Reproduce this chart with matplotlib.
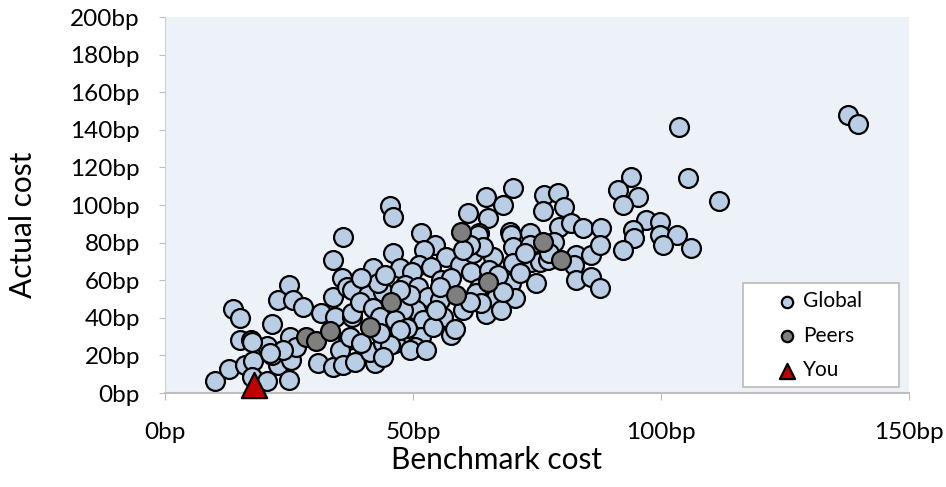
import matplotlib
matplotlib.use('Agg')
import matplotlib.pyplot as plt
from matplotlib.patches import Rectangle
from matplotlib.ticker import FuncFormatter

# benchmark cost (bp), actual cost (bp)
global_x = [10.1, 12.9, 13.7, 15.1, 15.1, 16.1, 17.3, 17.7, 17.5, 20.5, 20.5, 21.6, 22.7, 21.5,
            22.8, 25.0, 25.8, 27.8, 25.2, 25.0, 25.5, 26.5, 33.8, 31.5, 33.9, 30.8, 33.8, 35.6,
            36.6, 36.9, 35.2, 37.6, 34.2, 37.6, 37.2, 35.9, 38.3, 23.8, 21.1, 17.5,
            45.3, 45.9, 51.7, 35.9, 46.0, 54.4, 52.3, 56.7, 59.4, 41.9, 47.3, 51.3, 53.7, 49.7,
            55.7, 57.7, 48.3, 51.0, 40.9, 44.0, 53.0, 55.4, 50.7, 48.0, 56.0, 37.6, 45.0,
            52.0, 57.7, 58.5, 48.3, 51.7, 50.3, 46.3, 42.3, 41.3, 44.0,
            61.1, 65.1, 63.4, 64.7, 62.1, 66.1, 64.7,
            70.1, 68.1, 76.5, 79.2, 76.2, 80.5, 79.5, 81.9, 63.1, 69.5, 69.8, 73.5, 78.5, 70.1,
            73.5, 64.1, 70.1, 73.8, 75.5, 77.2, 82.9, 82.5, 82.9, 69.8, 74.8, 61.7, 65.4, 67.1,
            63.4, 62.7, 66.8, 70.5, 63.8, 67.8,
            93.9, 91.3, 95.3, 92.3, 96.9, 99.7, 94.3, 94.6, 99.7, 103.3, 100.3, 92.3, 84.2, 87.9,
            85.9, 87.6, 85.9, 87.6, 105.4, 106.0, 103.6, 111.7, 137.6, 139.6,
            39.3, 41.9, 43.3, 46.3, 48.7, 54.0, 54.7, 49.3, 47.3, 43.0, 39.6, 44.3, 55.4, 47.3,
            45.3, 43.3, 39.6, 49.3, 52.7, 44.0, 61.4, 60.0, 72.5, 77.5, 71.5, 68.1, 60.0, 61.4]
global_y = [6.4, 12.8, 44.8, 39.7, 28.2, 14.9, 28.2, 17.0, 8.7, 6.5, 25.0, 36.7, 14.9, 20.2,
            49.5, 57.4, 49.5, 45.9, 30.0, 6.9, 17.6, 24.6, 70.7, 42.4, 51.2, 16.0, 14.0, 61.0,
            56.5, 28.2, 22.9, 54.8, 40.6, 40.6, 30.0, 14.9, 16.7, 22.9, 21.3, 27.3,
            99.5, 93.8, 85.0, 83.2, 74.3, 78.7, 76.0, 72.5, 68.0, 66.3, 66.3, 68.0, 67.2, 64.5,
            60.0, 61.0, 57.4, 56.5, 52.1, 53.9, 51.2, 49.5, 44.1, 44.1, 40.6, 42.4, 34.4,
            38.8, 30.9, 34.0, 28.2, 30.0, 24.6, 26.4, 15.8, 22.0, 26.4,
            95.6, 92.9, 85.0, 104.4, 74.3, 72.5, 42.0,
            108.9, 100.0, 105.3, 106.2, 96.6, 99.1, 88.5, 90.2, 84.0, 85.8, 84.0, 85.0, 80.5, 77.9,
            78.7, 77.9, 69.0, 69.8, 69.8, 70.7, 73.4, 68.0, 60.1, 58.3, 58.3, 64.5, 65.4, 62.8,
            55.7, 53.0, 50.4, 50.4, 47.7, 44.1,
            115.1, 108.0, 104.4, 100.0, 92.0, 91.1, 86.7, 82.3, 84.0, 84.0, 78.7, 76.0, 87.6, 87.6,
            73.4, 78.7, 61.9, 55.7, 114.2, 77.0, 141.4, 101.9, 147.7, 143.3,
            48.6, 45.0, 40.6, 38.8, 34.4, 35.3, 44.1, 52.1, 54.8, 58.3, 61.0, 62.8, 56.5, 33.5,
            25.5, 31.7, 26.4, 22.9, 22.9, 19.3, 78.7, 76.0, 74.3, 74.3, 63.7, 53.9, 44.1, 48.6]

peers_x = [28.5, 30.5, 33.2, 41.3, 45.6, 58.7, 59.7, 65.1, 76.2, 79.8]
peers_y = [30.0, 27.8, 33.0, 35.3, 48.6, 52.1, 85.5, 59.2, 80.5, 70.7]

you_x = [18.0]
you_y = [4.0]

plt.rcParams['font.family'] = ['Lato', 'DejaVu Sans']

fig = plt.figure(figsize=(9.46, 4.87), dpi=100)
ax = fig.add_axes([0.1744, 0.193, 0.7866, 0.772])
ax.set_facecolor('#EDF1F8')

ax.scatter(global_x, global_y, s=185, c='#B9CDE5', edgecolors='black', linewidths=1.6,
           label='Global', zorder=2)
ax.scatter(peers_x, peers_y, s=185, c='#7F7F7F', edgecolors='black', linewidths=1.6,
           label='Peers', zorder=3)
ax.scatter(you_x, you_y, s=330, marker='^', c='#C00000', edgecolors='black', linewidths=1.6,
           label='You', zorder=4, clip_on=False)

ax.set_xlim(0, 150)
ax.set_ylim(0, 200)
ax.set_xticks([0, 50, 100, 150])
ax.set_yticks(range(0, 201, 20))
fmt = FuncFormatter(lambda v, p: '{:d}bp'.format(int(v)))
ax.xaxis.set_major_formatter(fmt)
ax.yaxis.set_major_formatter(fmt)
ax.tick_params(axis='both', labelsize=17.5, colors='#BFBFBF', labelcolor='black')
ax.tick_params(axis='x', pad=16, length=5)
ax.tick_params(axis='y', pad=14, length=4)

for s in ['top', 'right']:
    ax.spines[s].set_visible(False)
ax.spines['left'].set_color('#D0D0D0')
ax.spines['bottom'].set_color('#BFBFBF')
ax.spines['bottom'].set_linewidth(1.5)

ax.set_xlabel('Benchmark cost', fontsize=21.5)
ax.set_ylabel('Actual cost', fontsize=21.5)
ax.xaxis.set_label_coords(0.446, -0.14)
ax.yaxis.set_label_coords(-0.172, 0.447)

# legend box drawn separately so it can be wider than its entries
ax.add_patch(Rectangle((0.777, 0.016), 0.2097, 0.2766, transform=ax.transAxes,
                       facecolor='white', edgecolor='#BFBFBF', linewidth=1.3, zorder=5))
leg = ax.legend(loc='center left', bbox_to_anchor=(0.822, 0.152), fontsize=15,
                markerscale=0.6, frameon=False, borderpad=0, labelspacing=0.7,
                handlelength=1.0, handletextpad=0.25, borderaxespad=0)
leg.set_zorder(6)

fig.savefig('out.png', dpi=100)
